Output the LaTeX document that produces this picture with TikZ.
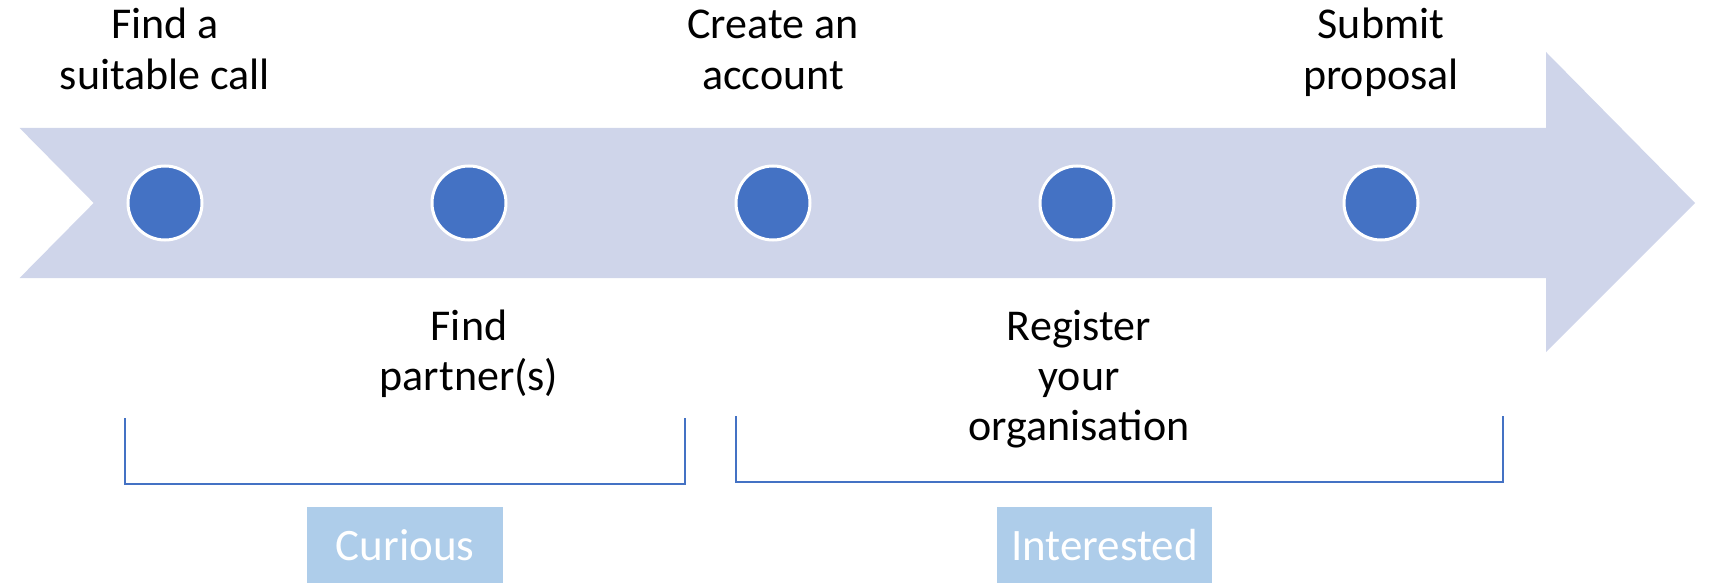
\documentclass[tikz,border=0pt]{standalone}
\usepackage{fontspec}
\setmainfont{Carlito}
\definecolor{arrowfill}{HTML}{CFD5EA}
\definecolor{dotblue}{HTML}{4472C4}
\definecolor{boxblue}{HTML}{AECDEA}
\tikzset{
  dot/.style={circle, fill=dotblue, draw=white, line width=3pt, minimum size=74pt, inner sep=0pt},
  lbl/.style={align=center, inner sep=0pt, anchor=base, font=\fontsize{44}{50}\selectfont},
  bracket/.style={draw=dotblue, line width=1.5pt},
  stage/.style={fill=boxblue, text=white, inner sep=0pt, minimum height=76pt, anchor=north, font=\fontsize{45}{50}\selectfont}
}
\begin{document}
\begin{tikzpicture}[x=1pt,y=-1pt]
\useasboundingbox (0,0) rectangle (1709,583);
% big arrow
\fill[arrowfill] (19.6,128) -- (1546,128) -- (1546,52) -- (1695,203) -- (1546,352) -- (1546,278) -- (19.6,278) -- (93.7,203) -- cycle;
% dots
\node[dot] (d1) at (165,203) {};
\node[dot] (d2) at (469,203) {};
\node[dot] (d3) at (773,203) {};
\node[dot] (d4) at (1077,203) {};
\node[dot] (d5) at (1381,203) {};
% labels (anchor = baseline of last line)
\node[lbl, font=\fontsize{44}{51}\selectfont] (t1) at (165,90) {Find a\\suitable call};
\node[lbl, font=\fontsize{44}{51}\selectfont] (t3) at (773,90) {Create an\\account};
\node[lbl, font=\fontsize{44}{51}\selectfont] (t5) at (1381,90) {Submit\\proposal};
\node[lbl] (t2) at (469,390) {Find\\partner(s)};
\node[lbl] (t4) at (1079,440) {Register\\your\\organisation};
% brackets
\coordinate (a1) at (125,418); \coordinate (a2) at (125,484);
\coordinate (a3) at (685,484); \coordinate (a4) at (685,418);
\coordinate (b1) at (736,416); \coordinate (b2) at (736,482);
\coordinate (b3) at (1503,482); \coordinate (b4) at (1503,416);
\draw[bracket] (a1) -- (a2) -- (a3) -- (a4);
\draw[bracket] (b1) -- (b2) -- (b3) -- (b4);
% stages
\node[stage, minimum width=196pt] (s1) at (405,507) {Curious};
\node[stage, minimum width=215pt] (s2) at (1104.5,507) {Interested};
\end{tikzpicture}
\end{document}
